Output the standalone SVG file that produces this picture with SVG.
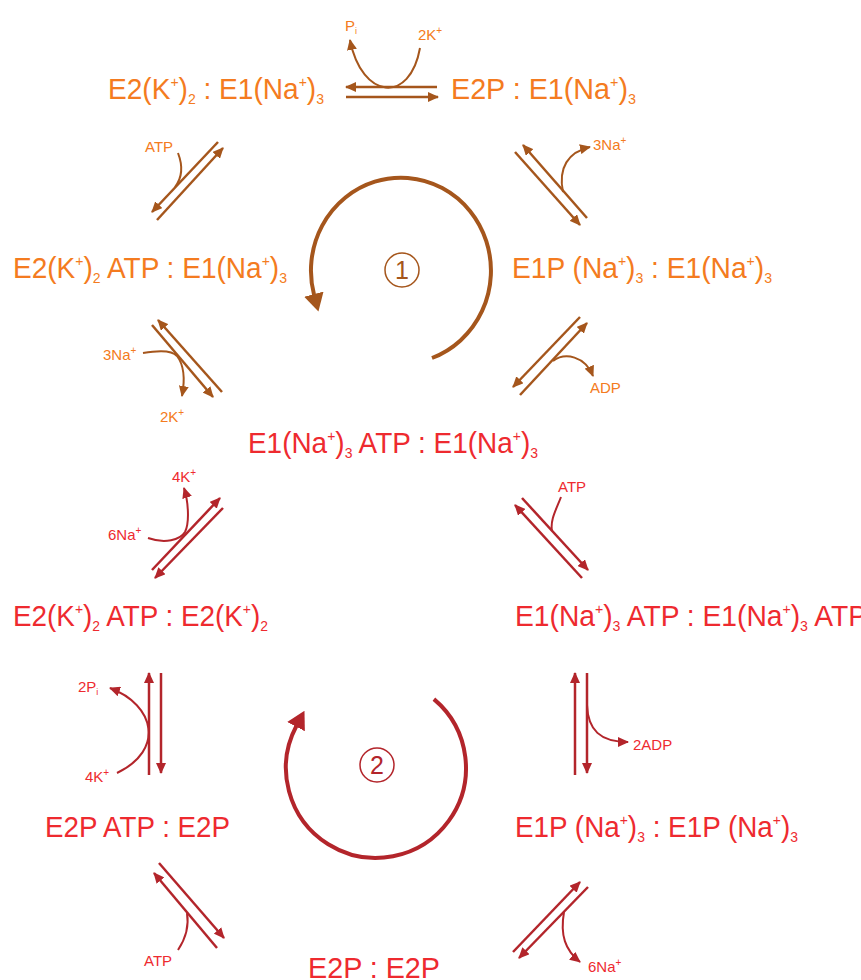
<svg xmlns="http://www.w3.org/2000/svg" width="861" height="980" viewBox="0 0 861 980">
<style>
.m{font-family:"Liberation Sans",Arial,sans-serif;font-size:30px}
.s{font-family:"Liberation Sans",Arial,sans-serif;font-size:15px}
.o{fill:#F47B20}
.r{fill:#EE2A2F}
.sp{font-size:15px}
.sb{font-size:15px}
.ssp{font-size:10px}
.bl{stroke:#A5561C;stroke-width:2.5;fill:none}
.rl{stroke:#B3252B;stroke-width:2.5;fill:none}
.bc{stroke:#A5561C;stroke-width:2;fill:none}
.rc{stroke:#B3252B;stroke-width:2;fill:none}
.ba{marker-end:url(#mb)}
.ra{marker-end:url(#mr)}
</style>
<defs>
<marker id="mb" viewBox="0 0 11 10" refX="10" refY="5" markerWidth="11" markerHeight="10" markerUnits="userSpaceOnUse" orient="auto"><path d="M0,0 L11,5 L0,10 z" fill="#A5561C"/></marker>
<marker id="mr" viewBox="0 0 11 10" refX="10" refY="5" markerWidth="11" markerHeight="10" markerUnits="userSpaceOnUse" orient="auto"><path d="M0,0 L11,5 L0,10 z" fill="#B3252B"/></marker>
<marker id="cb" viewBox="0 0 18 20" refX="1" refY="10" markerWidth="18" markerHeight="20" markerUnits="userSpaceOnUse" orient="auto"><path d="M0,0 L18,10 L0,20 z" fill="#A5561C"/></marker>
<marker id="cr" viewBox="0 0 18 20" refX="1" refY="10" markerWidth="18" markerHeight="20" markerUnits="userSpaceOnUse" orient="auto"><path d="M0,0 L18,10 L0,20 z" fill="#B3252B"/></marker>
</defs>

<g id="n1"><text class="m o" x="108" y="99" textLength="216" lengthAdjust="spacingAndGlyphs">E2(K<tspan class="sp" dy="-12">+</tspan><tspan dy="12">)</tspan><tspan class="sb" dy="5">2</tspan><tspan dy="-5"> : E1(Na</tspan><tspan class="sp" dy="-12">+</tspan><tspan dy="12">)</tspan><tspan class="sb" dy="5">3</tspan></text></g>
<g id="n2"><text class="m o" x="451" y="99" textLength="185" lengthAdjust="spacingAndGlyphs">E2P : E1(Na<tspan class="sp" dy="-12">+</tspan><tspan dy="12">)</tspan><tspan class="sb" dy="5">3</tspan></text></g>
<g id="n3"><text class="m o" x="13" y="278" textLength="274" lengthAdjust="spacingAndGlyphs">E2(K<tspan class="sp" dy="-12">+</tspan><tspan dy="12">)</tspan><tspan class="sb" dy="5">2</tspan><tspan dy="-5"> ATP : E1(Na</tspan><tspan class="sp" dy="-12">+</tspan><tspan dy="12">)</tspan><tspan class="sb" dy="5">3</tspan></text></g>
<g id="n4"><text class="m o" x="512" y="278" textLength="260" lengthAdjust="spacingAndGlyphs">E1P (Na<tspan class="sp" dy="-12">+</tspan><tspan dy="12">)</tspan><tspan class="sb" dy="5">3</tspan><tspan dy="-5"> : E1(Na</tspan><tspan class="sp" dy="-12">+</tspan><tspan dy="12">)</tspan><tspan class="sb" dy="5">3</tspan></text></g>
<g id="n5"><text class="m r" x="248" y="453" textLength="290" lengthAdjust="spacingAndGlyphs">E1(Na<tspan class="sp" dy="-12">+</tspan><tspan dy="12">)</tspan><tspan class="sb" dy="5">3</tspan><tspan dy="-5"> ATP : E1(Na</tspan><tspan class="sp" dy="-12">+</tspan><tspan dy="12">)</tspan><tspan class="sb" dy="5">3</tspan></text></g>
<g id="n6"><text class="m r" x="13" y="626" textLength="255" lengthAdjust="spacingAndGlyphs">E2(K<tspan class="sp" dy="-12">+</tspan><tspan dy="12">)</tspan><tspan class="sb" dy="5">2</tspan><tspan dy="-5"> ATP : E2(K</tspan><tspan class="sp" dy="-12">+</tspan><tspan dy="12">)</tspan><tspan class="sb" dy="5">2</tspan></text></g>
<g id="n7"><text class="m r" x="515" y="626" textLength="352" lengthAdjust="spacingAndGlyphs">E1(Na<tspan class="sp" dy="-12">+</tspan><tspan dy="12">)</tspan><tspan class="sb" dy="5">3</tspan><tspan dy="-5"> ATP : E1(Na</tspan><tspan class="sp" dy="-12">+</tspan><tspan dy="12">)</tspan><tspan class="sb" dy="5">3</tspan><tspan dy="-5"> ATP</tspan></text></g>
<g id="n8"><text class="m r" x="45" y="837" textLength="185" lengthAdjust="spacingAndGlyphs">E2P ATP : E2P</text></g>
<g id="n9"><text class="m r" x="515" y="837" textLength="283" lengthAdjust="spacingAndGlyphs">E1P (Na<tspan class="sp" dy="-12">+</tspan><tspan dy="12">)</tspan><tspan class="sb" dy="5">3</tspan><tspan dy="-5"> : E1P (Na</tspan><tspan class="sp" dy="-12">+</tspan><tspan dy="12">)</tspan><tspan class="sb" dy="5">3</tspan></text></g>
<g id="n10"><text class="m r" x="308" y="978" textLength="132" lengthAdjust="spacingAndGlyphs">E2P : E2P</text></g>

<g id="cycle1">
<path d="M432,358 A90,93 0 1 0 314.1,295.1" stroke="#A5561C" stroke-width="4" fill="none" marker-end="url(#cb)"/>
<circle cx="402" cy="270" r="17" fill="none" stroke="#A5561C" stroke-width="1.5"/>
<text x="402" y="279" text-anchor="middle" font-family="Liberation Sans, Arial, sans-serif" font-size="25" fill="#A5561C">1</text>
</g>
<g id="cycle2">
<path d="M433.9,699.1 A90,90 0 1 1 296.5,725.7" stroke="#B3252B" stroke-width="4" fill="none" marker-end="url(#cr)"/>
<circle cx="377" cy="765" r="17" fill="none" stroke="#B3252B" stroke-width="1.5"/>
<text x="377" y="774" text-anchor="middle" font-family="Liberation Sans, Arial, sans-serif" font-size="25" fill="#B3252B">2</text>
</g>

<g id="labels">
<text class="s o" x="345" y="31">P<tspan font-size="9" dy="3">i</tspan></text>
<text class="s o" x="418" y="40">2K<tspan class="ssp" dy="-6">+</tspan></text>
<text class="s o" x="145" y="152">ATP</text>
<text class="s o" x="593" y="150">3Na<tspan class="ssp" dy="-6">+</tspan></text>
<text class="s o" x="103" y="360">3Na<tspan class="ssp" dy="-6">+</tspan></text>
<text class="s o" x="160" y="422">2K<tspan class="ssp" dy="-6">+</tspan></text>
<text class="s o" x="590" y="393">ADP</text>
<text class="s r" x="172" y="482">4K<tspan class="ssp" dy="-6">+</tspan></text>
<text class="s r" x="108" y="540">6Na<tspan class="ssp" dy="-6">+</tspan></text>
<text class="s r" x="558" y="492">ATP</text>
<text class="s r" x="78" y="692">2P<tspan font-size="9" dy="3">i</tspan></text>
<text class="s r" x="85" y="782">4K<tspan class="ssp" dy="-6">+</tspan></text>
<text class="s r" x="633" y="750">2ADP</text>
<text class="s r" x="144" y="966">ATP</text>
<text class="s r" x="588" y="972">6Na<tspan class="ssp" dy="-6">+</tspan></text>
</g>

<g id="connectors">
<path class="bl ba" d="M437,87 L346,87"/>
<path class="bl ba" d="M346,97 L438,97"/>
<path class="bc ba" d="M420,48 C410,104 362,100 350,40"/>
<path class="bl ba" d="M218,142 L152,212"/>
<path class="bl ba" d="M157,220 L223,148"/>
<path class="bc" d="M178,153 C183,166 182,178 175,187"/>
<path class="bl ba" d="M222,392 L158,320"/>
<path class="bl ba" d="M152,325 L213,397"/>
<path class="bc ba" d="M143,353 C160,350 172,350 177,356 C184,365 185,380 182,396"/>
<path class="bl ba" d="M587,218 L523,145"/>
<path class="bl ba" d="M515,152 L580,225"/>
<path class="bc ba" d="M563,192 C558,168 568,152 590,147"/>
<path class="bl ba" d="M520,395 L587,323"/>
<path class="bl ba" d="M580,317 L513,387"/>
<path class="bc ba" d="M553,361 C565,352 585,356 593,376"/>
<path class="rl ra" d="M152,570 L220,498"/>
<path class="rl ra" d="M223,508 L155,578"/>
<path class="rc ra" d="M148,538 C165,544 180,540 185,532 C190,522 188,500 184,488"/>
<path class="rl ra" d="M582,578 L515,505"/>
<path class="rl ra" d="M522,498 L588,570"/>
<path class="rc" d="M561,497 C556,510 550,520 552,531"/>
<path class="rl ra" d="M149,775 L149,673"/>
<path class="rl ra" d="M161,673 L161,773"/>
<path class="rc ra" d="M117,773 C165,750 155,705 110,688"/>
<path class="rl ra" d="M575,775 L575,673"/>
<path class="rl ra" d="M587,673 L587,773"/>
<path class="rc ra" d="M587,705 C588,730 600,742 628,742"/>
<path class="rl ra" d="M159,863 L224,938"/>
<path class="rl ra" d="M217,948 L154,873"/>
<path class="rc" d="M178,950 C186,938 189,925 187,913"/>
<path class="rl ra" d="M513,952 L580,882"/>
<path class="rl ra" d="M588,887 L519,958"/>
<path class="rc ra" d="M564,912 C560,935 565,950 580,962"/>
</g>
</svg>
